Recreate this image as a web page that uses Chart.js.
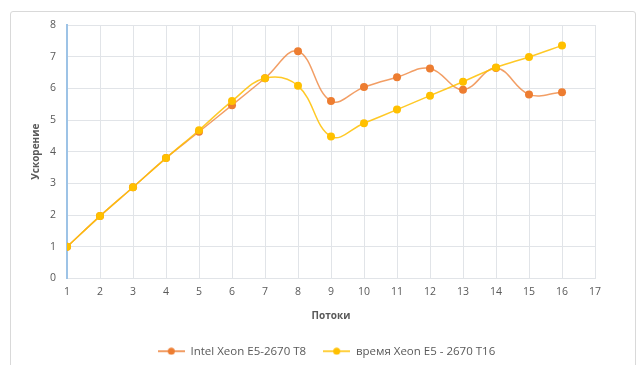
<!DOCTYPE html>
<html>
<head>
<meta charset="utf-8">
<script src="https://cdn.jsdelivr.net/npm/chart.js@4.4.1/dist/chart.umd.min.js"></script>
<style>
  html, body { margin: 0; padding: 0; background: #fff; }
  #wrap { position: relative; width: 639px; height: 365px; overflow: hidden; }
  #rahmen { position: absolute; left: 10px; top: 11px; width: 626px; height: 370px;
            border: 1px solid #d9d9d9; border-radius: 3px; box-sizing: border-box; }
  canvas { position: absolute; left: 0; top: 0; }
</style>
</head>
<body>
<div id="wrap">
  <div id="rahmen"></div>
  <canvas id="chart" width="639" height="365"></canvas>
</div>
<script>
// Anzahl der Threads (x) und gemessene Beschleunigung
const threads = [1, 2, 3, 4, 5, 6, 7, 8, 9, 10, 11, 12, 13, 14, 15, 16];
const speedupT8 = [1, 1.97, 2.88, 3.8, 4.63, 5.47, 6.32, 7.17, 5.6, 6.04, 6.35, 6.63, 5.96, 6.64, 5.81, 5.88];
const speedupT16 = [1, 1.97, 2.88, 3.8, 4.68, 5.6, 6.32, 6.08, 4.48, 4.9, 5.33, 5.77, 6.21, 6.66, 6.99, 7.35];
const xTicks = [1, 2, 3, 4, 5, 6, 7, 8, 9, 10, 11, 12, 13, 14, 15, 16, 17];
const yTicks = [0, 1, 2, 3, 4, 5, 6, 7, 8];

const labelT8 = 'Intel Xeon E5-2670 T8';
const labelT16 = 'время Xeon E5 - 2670 T16';
const orange = '#ED7D31';
const gelb = '#FFC000';
const grau = '#595959';

function punkte(werte) {
    return threads.map((t, i) => ({ x: t, y: werte[i] }));
}

// kleines Legendensymbol: Linie mit Punkt in der Mitte
function legendenSymbol(farbe) {
    const c = document.createElement('canvas');
    c.width = 27; c.height = 8;
    const g = c.getContext('2d');
    g.strokeStyle = farbe;
    g.lineWidth = 1.5;
    g.beginPath(); g.moveTo(0, 4); g.lineTo(27, 4); g.stroke();
    g.fillStyle = farbe;
    g.beginPath(); g.arc(13.5, 4, 3.5, 0, Math.PI * 2); g.fill();
    return c;
}

// Legende etwas nach rechts und unten schieben
const legendeVerschieben = {
    id: 'legendeVerschieben',
    afterLayout(chart) {
        const lg = chart.legend;
        if (lg) { lg.left += 14; lg.right += 14; lg.top += 2; lg.bottom += 2; }
    },
};

const ctx = document.getElementById('chart');
new Chart(ctx, {
    type: 'line',
    data: {
        datasets: [
            {
                label: labelT8,
                data: punkte(speedupT8),
                borderColor: 'rgba(237, 125, 49, 0.75)',
                backgroundColor: orange,
                borderWidth: 1.5,
                pointRadius: 4,
                pointBorderWidth: 0,
                tension: 0.4,
                pointStyle: 'circle',
                order: 1,
            },
            {
                label: labelT16,
                data: punkte(speedupT16),
                borderColor: 'rgba(255, 192, 0, 0.85)',
                backgroundColor: gelb,
                borderWidth: 1.5,
                pointRadius: 4,
                pointBorderWidth: 0,
                tension: 0.4,
                pointStyle: 'circle',
                order: 0,
            },
        ],
    },
    plugins: [legendeVerschieben],
    options: {
        responsive: false,
        animation: false,
        layout: { padding: { left: 30, top: 25, right: 44, bottom: 0 } },
        scales: {
            x: {
                type: 'linear',
                min: 1,
                max: 17,
                afterBuildTicks: (scale) => { scale.ticks = xTicks.map(v => ({ value: v })); },
                afterFit: (scale) => { scale.height = 48; },
                ticks: { color: grau, font: { family: 'Open Sans', size: 10.5 }, padding: 7 },
                grid: { color: '#e1e4e8', drawTicks: false },
                border: { color: '#e1e4e8' },
                title: { display: true, text: 'Потоки', color: grau,
                         font: { family: 'Open Sans', size: 10, weight: 'bold' }, padding: { top: 0 } },
            },
            y: {
                min: 0,
                max: 8,
                afterBuildTicks: (scale) => { scale.ticks = yTicks.map(v => ({ value: v })); },
                afterFit: (scale) => { scale.width = 37; },
                ticks: { color: grau, font: { family: 'Open Sans', size: 10.5 }, padding: 11 },
                grid: { color: '#e1e4e8', drawTicks: false },
                border: { color: '#9dc3e6', width: 2 },
                title: { display: true, text: 'Ускорение', color: grau,
                         font: { family: 'Open Sans', size: 10, weight: 'bold' }, padding: { top: 0, bottom: 0 } },
            },
        },
        plugins: {
            legend: {
                position: 'bottom',
                labels: {
                    color: grau,
                    font: { family: 'Open Sans', size: 11.5 },
                    usePointStyle: true,
                    pointStyleWidth: 27,
                    padding: 17,
                    generateLabels: (chart) => chart.data.datasets.map((ds, i) => ({
                        text: ds.label,
                        fontColor: grau,
                        pointStyle: legendenSymbol(i === 0 ? orange : gelb),
                        datasetIndex: i,
                        lineWidth: 0,
                        hidden: false,
                    })),
                },
            },
            tooltip: { enabled: false },
        },
    },
});
</script>
</body>
</html>
